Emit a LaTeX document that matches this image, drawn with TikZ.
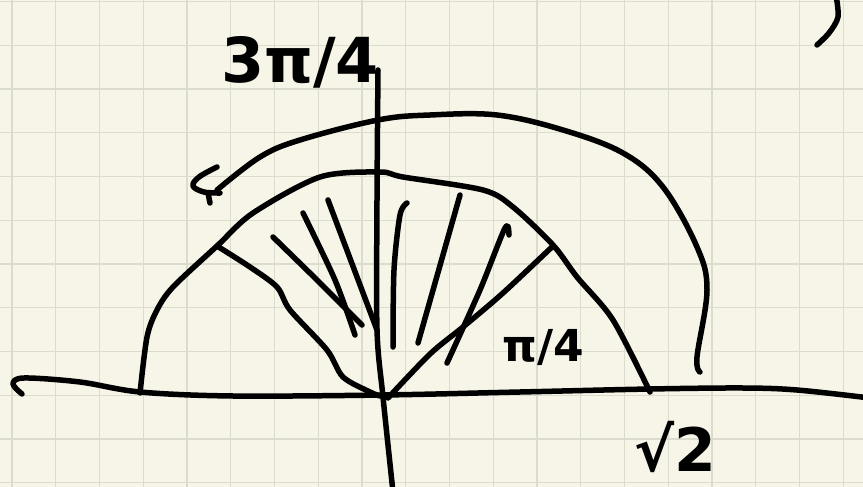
\documentclass[tikz,border=0pt]{standalone}
\usepackage{fontspec}
\newfontfamily\hand{DejaVu Sans}
\definecolor{paper}{HTML}{F7F5E8}
\definecolor{gridc}{HTML}{DBDBCE}
\tikzset{
  ink/.style={line width=5.5pt, line cap=round, line join=round, black},
  gridline/.style={line width=1.3pt, gridc},
  lbl/.style={inner sep=0pt, font=\hand\bfseries}
}
\begin{document}
\begin{tikzpicture}[x=1pt,y=-1pt]
\useasboundingbox (0,0) rectangle (863,487);
\fill[paper] (0,0) rectangle (863,487);
\begin{scope}
\clip (0,0) rectangle (863,487);
\foreach \i in {0,...,19} { \draw[gridline] ({12+43.75*\i},0) -- ({12+43.75*\i},487); }
\foreach \j in {0,...,11} { \draw[gridline] (0,{1.5+43.75*\j}) -- (863,{1.5+43.75*\j}); }

% horizontal axis with hook
\draw[ink] plot[smooth, tension=0.55] coordinates {(22,394) (13,384) (24,378) (80,382) (140,392) (233,396) (383,395) (520,392) (650,389) (743,388) (797,390) (870,398)};
% vertical axis
\draw[ink] plot[smooth] coordinates {(378,70) (377,200) (377,330) (383,397) (393,492)};

% outer arc with arrow
\draw[ink] plot[smooth, tension=0.6] coordinates {(700,372) (697,357) (707,290) (697,247) (663,187) (623,153) (563,130) (497,115) (430,115) (378,120) (300,140) (260,157) (217,190)};
\draw[ink] plot[smooth, tension=0.6] coordinates {(217,167) (199,177) (193,186) (204,192) (220,193)};
\draw[ink] (208,193) -- (210,203);

% inner arc
\draw[ink] plot[smooth, tension=0.5] coordinates {(140,393) (147,337) (157,310) (173,287) (217,246) (253,213) (320,177) (380,172) (403,177) (483,190) (513,207) (553,245) (577,277) (613,320) (650,392)};

% radii
\draw[ink] plot[smooth, tension=0.5] coordinates {(217,246) (250,267) (277,287) (290,310) (327,350) (343,377) (370,392) (380,396)};
\draw[ink] plot[smooth, tension=0.5] coordinates {(388,398) (430,354) (463,327) (503,293) (553,246)};

% fan hatching
\draw[ink] plot[smooth] coordinates {(273,237) (317,280) (362,325)};
\draw[ink] plot[smooth] coordinates {(303,213) (335,280) (355,335)};
\draw[ink] (328,200) -- (377,330);
\draw[ink] plot[smooth] coordinates {(407,203) (400,215) (394,270) (393,347)};
\draw[ink] (460,195) -- (418,343);
\draw[ink] plot[smooth] coordinates {(509,235) (505,228) (480,290) (447,363)};

% stroke at top right
\draw[ink] plot[smooth] coordinates {(836,-5) (838,17) (829,33) (817,45)};
\end{scope}

% labels
\node[lbl, font=\hand\bfseries\fontsize{62}{62}\selectfont] (t34) at (300,62) {3π/4};
\node[lbl, font=\hand\bfseries\fontsize{44}{44}\selectfont] (t14) at (543,348) {π/4};
\node[lbl, font=\hand\bfseries\fontsize{60}{60}\selectfont] (ts2) at (675,447) {√2};
\end{tikzpicture}
\end{document}
